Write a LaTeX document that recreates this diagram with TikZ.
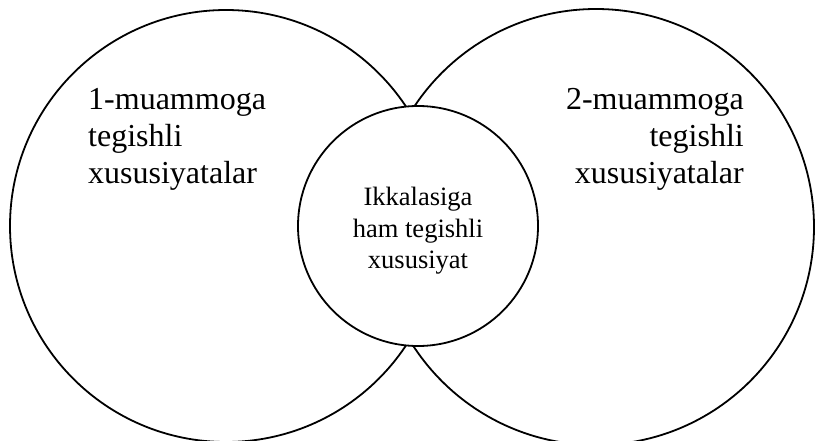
\documentclass[tikz,border=0pt]{standalone}
\usepackage{fontspec}
\setmainfont{Liberation Serif}
\begin{document}
\begin{tikzpicture}[x=1pt,y=-1pt,
  ring/.style={circle,draw=black,line width=1.8pt,inner sep=0pt},
  bigtext/.style={inner sep=0pt,font=\fontsize{32}{36.7}\selectfont},
  smalltext/.style={inner sep=0pt,align=center,font=\fontsize{26.5}{31.5}\selectfont}]
\useasboundingbox (0,0) rectangle (816,441);
\node[ring,minimum size=432pt] (left) at (226,226) {};
\node[ring,minimum size=436pt] (right) at (596,227) {};
\node[ring,fill=white,minimum size=240pt] (mid) at (418,226) {};
\node[bigtext,align=left,anchor=north west] (t1) at (88,88.5) {1-muammoga\\tegishli\\xususiyatalar};
\node[bigtext,align=right,anchor=north east] (t2) at (744,88.5) {2-muammoga\\tegishli\\xususiyatalar};
\node[smalltext,anchor=north] (t3) at (418,187) {Ikkalasiga\\ham tegishli\\xususiyat};
\end{tikzpicture}
\end{document}
